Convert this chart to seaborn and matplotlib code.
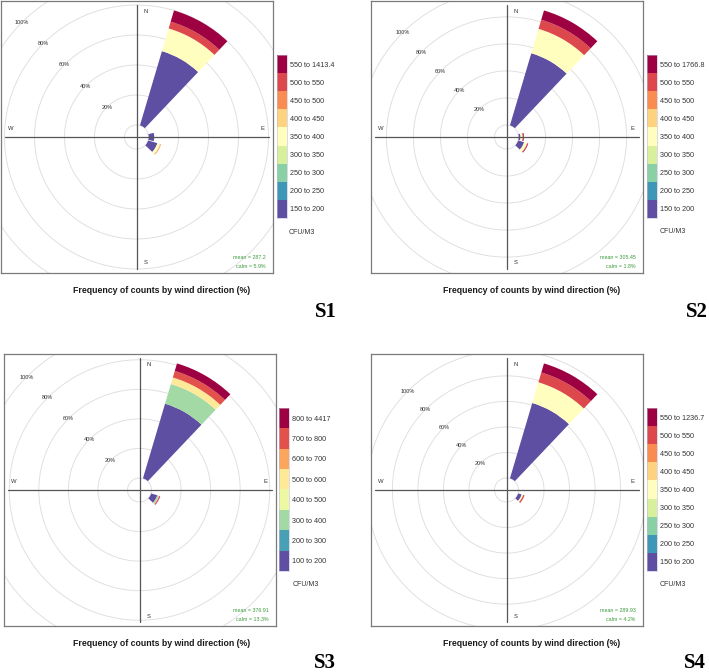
import numpy as np
import matplotlib
matplotlib.use("Agg")
import matplotlib as mpl
import matplotlib.pyplot as plt
import seaborn as sns

# ---------------- data ----------------
DIRECTIONS = [30, 90, 120]          # wind-direction bins (degrees)

S1_LABELS = ["150 to 200", "200 to 250", "250 to 300", "300 to 350", "350 to 400",
             "400 to 450", "450 to 500", "500 to 550", "550 to 1413.4"]
S1_D030 = [51.7, 0, 0, 0, 15.8, 0, 0, 4.7, 7.8]
S1_D090 = [3.8, 0, 0, 0, 0, 0, 0, 0, 0]
S1_D120 = [6.5, 0, 0, 0, 1.7, 0.4, 0.4, 0, 0]
S1_MEAN, S1_CALM = "287.2", "5.9%"

S2_LABELS = ["150 to 200", "200 to 250", "250 to 300", "300 to 350", "350 to 400",
             "400 to 450", "450 to 500", "500 to 550", "550 to 1766.8"]
S2_D030 = [55.8, 0, 0, 0, 18.8, 0, 0, 7.0, 7.2]
S2_D090 = [1.5, 0, 0, 0, 1.5, 0, 0, 0.5, 0.5]
S2_D120 = [4.7, 0, 0, 0, 2.3, 0, 0, 0.5, 0.4]
S2_MEAN, S2_CALM = "305.45", "1.8%"

S3_LABELS = ["100 to 200", "200 to 300", "300 to 400", "400 to 500", "500 to 600",
             "600 to 700", "700 to 800", "800 to 4417"]
S3_D030 = [52.8, 0, 13.9, 0, 4.6, 0, 4.6, 5.3]
S3_D090 = [0, 0, 0, 0, 0, 0, 0, 0]
S3_D120 = [4.4, 0, 1.0, 0, 0.3, 0, 0.5, 0.3]
S3_MEAN, S3_CALM = "376.91", "13.3%"

S4_LABELS = ["150 to 200", "200 to 250", "250 to 300", "300 to 350", "350 to 400",
             "400 to 450", "450 to 500", "500 to 550", "550 to 1236.7"]
S4_D030 = [61.7, 0, 0, 0, 16.9, 0, 0, 8.0, 7.4]
S4_D090 = [0, 0, 0, 0, 0, 0, 0, 0, 0]
S4_D120 = [3.0, 0, 0, 0, 1.2, 0, 0, 1.1, 0]
S4_MEAN, S4_CALM = "289.93", "4.2%"

TAGS = ["S1", "S2", "S3", "S4"]
RING_PCT = [20, 40, 60, 80, 100]
UNIT = "CFU/M3"
CAPTION = "Frequency of counts by wind direction (%)"

SPECTRAL = ["#5E4FA2", "#3288BD", "#66C2A5", "#ABDDA4", "#E6F598", "#FFFFBF",
            "#FEE08B", "#FDAE61", "#F46D43", "#D53E4F", "#9E0142"]

# ---------------- style ----------------
sns.set_style("white")
plt.rcParams['font.family'] = ['Liberation Sans', 'DejaVu Sans']

W, H = 709, 672
fig = plt.figure(figsize=(W / 100, H / 100), dpi=100)
fig.patch.set_facecolor("white")


def fx(x):
    return x / W


def fy(y):
    return 1 - y / H


def draw_panel(center, labels, dir_values, mean, calm, leg, unit_xy, cap_xy, tag, tag_xy):
    cx, cy = center
    n = len(labels)
    pal = sns.blend_palette(SPECTRAL, n_colors=n)
    totals = [sum(v) for v in dir_values]
    M = max(totals)
    off = 0.1 * M
    s = 120.0 / M             # px per percent
    half_px = 136.0
    Rpx = 200.0

    # cartesian frame (box, crosshair, annotations)
    axc = fig.add_axes([fx(cx - half_px), fy(cy + half_px), 2 * half_px / W, 2 * half_px / H],
                       zorder=3)
    lim = half_px / s
    axc.set_xlim(-lim, lim)
    axc.set_ylim(-lim, lim)
    axc.set_facecolor("none")
    axc.set_xticks([])
    axc.set_yticks([])
    for sp in axc.spines.values():
        sp.set_color("#7a7a7a")
        sp.set_linewidth(0.9)
        sp.set_visible(True)
    L = 1.1 * M
    axc.plot([-L, L], [0, 0], color="#555555", lw=0.9)
    axc.plot([0, 0], [-L, L], color="#555555", lw=0.9)
    tk = dict(fontsize=4.2, color="#333333", ha="center", va="center")
    axc.text(0.075 * M, 1.042 * M, "N", **tk)
    axc.text(0.075 * M, -1.05 * M, "S", **tk)
    axc.text(1.05 * M, 0.067 * M, "E", **tk)
    axc.text(-1.05 * M, 0.067 * M, "W", **tk)
    axc.text(1.075 * M, -1.008 * M, f"mean = {mean}", fontsize=3.8, color="#3a9a3a",
             ha="right", va="center")
    axc.text(1.075 * M, -1.08 * M, f"calm = {calm}", fontsize=3.8, color="#3a9a3a",
             ha="right", va="center")

    # polar axes for rings and bars
    axp = fig.add_axes([fx(cx - Rpx), fy(cy + Rpx), 2 * Rpx / W, 2 * Rpx / H],
                       projection="polar", zorder=2)
    axp.set_theta_zero_location("N")
    axp.set_theta_direction(-1)
    D = Rpx / s
    axp.set_rorigin(-off)
    axp.set_ylim(0, D - off)
    axp.patch.set_visible(False)
    for sp in axp.spines.values():
        sp.set_visible(False)
        sp.set_edgecolor("none")
        sp.set_linewidth(0)
    axp.grid(False)
    axp.set_xticks([])
    axp.set_yticks([])

    th = np.linspace(0, 2 * np.pi, 721)
    for r in [0] + RING_PCT:
        ln, = axp.plot(th, np.full_like(th, r), color="#DEDEDE", lw=0.65, zorder=0)
        ln.set_clip_path(axc.patch)

    theta = np.deg2rad(DIRECTIONS)
    vals = np.array(dir_values, dtype=float)      # (n_dir, n_cat)
    bottoms = np.zeros(len(DIRECTIONS))
    for i in range(n):
        h = vals[:, i]
        axp.bar(theta, h, width=np.deg2rad(27), bottom=bottoms, color=pal[i],
                linewidth=0, align="center", zorder=2)
        bottoms = bottoms + h

    for p in RING_PCT:
        axp.text(np.deg2rad(315), p, f"{p}%", fontsize=4.0, color="#333333",
                 ha="center", va="center", zorder=4)

    # legend (discrete colour key)
    lx, ly, lw, lh = leg
    lax = fig.add_axes([fx(lx), fy(ly + lh), lw / W, lh / H])
    cmap = mpl.colors.ListedColormap(pal)
    norm = mpl.colors.BoundaryNorm(np.arange(n + 1), n)
    cb = mpl.colorbar.ColorbarBase(lax, cmap=cmap, norm=norm, ticks=np.arange(n) + 0.5)
    cb.set_ticklabels(labels)
    cb.minorticks_off()
    lax.tick_params(which="both", length=0, labelsize=5.2, pad=2.3, colors="#333333")
    cb.outline.set_linewidth(0.4)
    cb.outline.set_edgecolor("#bdbdd6")
    fig.text(fx(unit_xy[0]), fy(unit_xy[1]), UNIT, fontsize=5.0, color="#333333",
             ha="left", va="center")

    fig.text(fx(cap_xy[0]), fy(cap_xy[1]), CAPTION, fontsize=6.3, fontweight="bold",
             color="#1a1a1a", ha="center", va="baseline")
    fig.text(fx(tag_xy[0]), fy(tag_xy[1]), tag, fontsize=15, fontweight="bold",
             family=["Liberation Serif", "DejaVu Serif"], color="black",
             ha="center", va="baseline")


draw_panel((136.5, 137), S1_LABELS, [S1_D030, S1_D090, S1_D120], S1_MEAN, S1_CALM,
           (277.3, 55, 9.3, 163), (289, 232), (162, 293.5), TAGS[0], (326, 317))
draw_panel((506.5, 137), S2_LABELS, [S2_D030, S2_D090, S2_D120], S2_MEAN, S2_CALM,
           (647.3, 55, 9.5, 163), (659.3, 231.5), (532, 293.5), TAGS[1], (697, 317))
draw_panel((139.5, 490), S3_LABELS, [S3_D030, S3_D090, S3_D120], S3_MEAN, S3_CALM,
           (279.3, 408, 10, 163), (292.7, 585), (162, 646), TAGS[2], (325, 668))
draw_panel((506.5, 490), S4_LABELS, [S4_D030, S4_D090, S4_D120], S4_MEAN, S4_CALM,
           (647.3, 408, 9.7, 163), (659.3, 585), (532, 646), TAGS[3], (695, 668))

fig.savefig("out.png", dpi=100, facecolor="white")
